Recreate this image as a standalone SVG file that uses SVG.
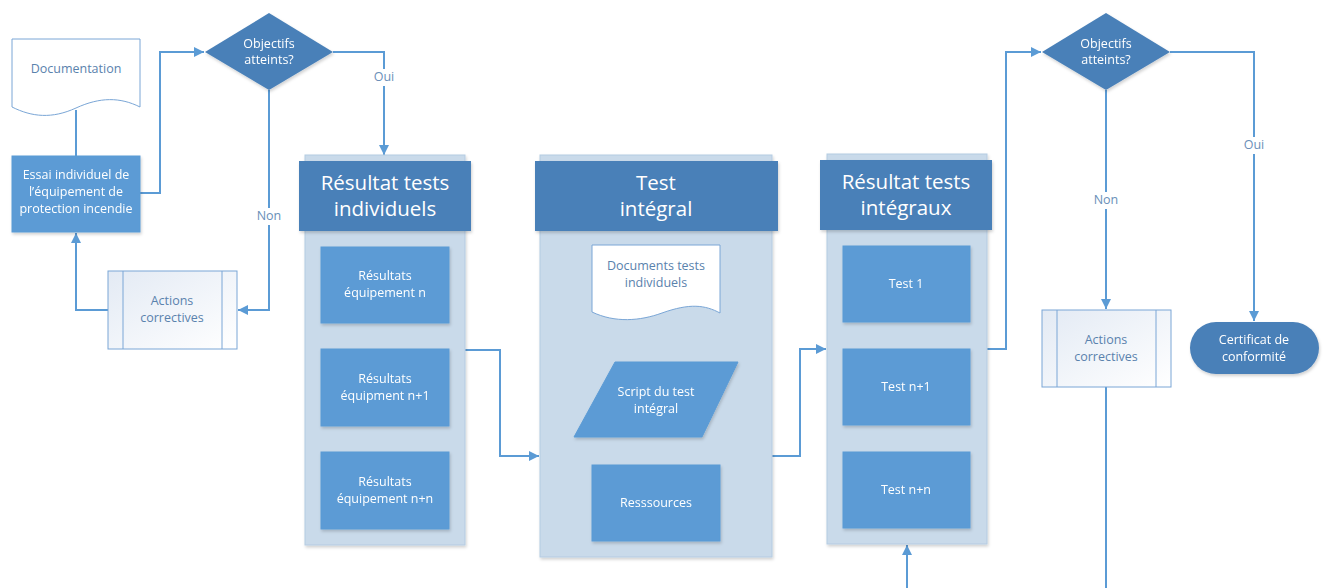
<svg xmlns="http://www.w3.org/2000/svg" width="1326" height="588" viewBox="0 0 1326 588">
<defs>
<style>
.conn{fill:none;stroke:#5b9bd5;stroke-width:2}
.lbl{font-family:"Open Sans","Liberation Sans",sans-serif;font-size:12.5px;fill:#6a8fb8;text-anchor:middle}
.wt{font-family:"Open Sans","Liberation Sans",sans-serif;font-size:12.5px;fill:#ffffff;text-anchor:middle}
.bt{font-family:"Open Sans","Liberation Sans",sans-serif;font-size:12.5px;fill:#5a82ad;text-anchor:middle}
.title{font-family:"Open Sans","Liberation Sans",sans-serif;font-size:20.5px;fill:#ffffff;text-anchor:middle}
.box{fill:#5b9bd5;stroke:#5b9bd5}
.dark{fill:#4a80b8}
.panel{fill:#c9daea;stroke:#b4cbe2;stroke-width:1}
.doc{fill:#ffffff;stroke:#7aa6d6;stroke-width:1}
.pred{fill:url(#pg);stroke:#7aa6d6;stroke-width:1}
</style>
<linearGradient id="pg" x1="0" y1="0" x2="1" y2="1">
<stop offset="0" stop-color="#e3eaf4"/>
<stop offset="1" stop-color="#ffffff"/>
</linearGradient>
<filter id="sh" x="-10%" y="-10%" width="130%" height="130%">
<feDropShadow dx="1" dy="2" stdDeviation="1.5" flood-color="#000" flood-opacity="0.18"/>
</filter>
<marker id="ar" viewBox="0 0 10 10" refX="10" refY="5" markerWidth="10" markerHeight="10" markerUnits="userSpaceOnUse" orient="auto">
<path d="M0,0 L10,5 L0,10 z" fill="#5b9bd5"/>
</marker>
</defs>
<rect width="1326" height="588" fill="#ffffff"/>

<g id="connectors">
<path class="conn" d="M76,110 V156"/>
<path class="conn" d="M140,193 H160 V52 H204" marker-end="url(#ar)"/>
<path class="conn" d="M333,52 H384 V155" marker-end="url(#ar)"/>
<path class="conn" d="M269,90 V310 H238" marker-end="url(#ar)"/>
<path class="conn" d="M108,310 H76 V233" marker-end="url(#ar)"/>
<path class="conn" d="M465,350 H500 V456 H539" marker-end="url(#ar)"/>
<path class="conn" d="M772,456 H800 V349 H826" marker-end="url(#ar)"/>
<path class="conn" d="M987,349 H1006 V52 H1041" marker-end="url(#ar)"/>
<path class="conn" d="M1106,90 V309" marker-end="url(#ar)"/>
<path class="conn" d="M1170,52 H1254 V321" marker-end="url(#ar)"/>
<path class="conn" d="M1106,387 V588"/>
<path class="conn" d="M907,588 V545" marker-end="url(#ar)"/>
<path class="conn" d="M385,323 V349 M385,426 V452"/>
<path class="conn" d="M907,322 V349 M907,425 V452"/>
<rect x="370" y="69" width="28" height="17" fill="#ffffff"/>
<text class="lbl" x="384" y="81">Oui</text>
<rect x="253" y="208" width="32" height="17" fill="#ffffff"/>
<text class="lbl" x="269" y="220">Non</text>
<rect x="1090" y="192" width="32" height="17" fill="#ffffff"/>
<text class="lbl" x="1106" y="204">Non</text>
<rect x="1240" y="137" width="28" height="17" fill="#ffffff"/>
<text class="lbl" x="1254" y="149">Oui</text>
</g>

<g id="documentation">
<path class="doc" d="M12,39 H140 V107 C120,97 100,97 76,108 C52,119 32,117 12,107 Z"/>
<text class="bt" x="76" y="73">Documentation</text>
</g>

<g id="essai" filter="url(#sh)">
<rect class="box" x="12" y="156" width="128" height="76"/>
<text class="wt" x="76" y="179">Essai individuel de</text>
<text class="wt" x="76" y="196">l’équipement de</text>
<text class="wt" x="76" y="213">protection incendie</text>
</g>

<g id="decision1" filter="url(#sh)">
<polygon class="dark" points="205,52 269,13 333,52 269,90"/>
<text class="wt" x="269" y="48">Objectifs</text>
<text class="wt" x="269" y="64">atteints?</text>
</g>

<g id="actions1">
<rect class="pred" x="108" y="271" width="129" height="78"/>
<line x1="123" y1="271" x2="123" y2="349" stroke="#7aa6d6"/>
<line x1="222" y1="271" x2="222" y2="349" stroke="#7aa6d6"/>
<text class="bt" x="172" y="305">Actions</text>
<text class="bt" x="172" y="322">correctives</text>
</g>

<g id="panel1">
<rect class="panel" x="305" y="155" width="160" height="390" filter="url(#sh)"/>
<rect class="dark" x="299" y="161" width="172" height="70" filter="url(#sh)"/>
<text class="title" x="385" y="190">Résultat tests</text>
<text class="title" x="385" y="216">individuels</text>
</g>
<g id="res-n" filter="url(#sh)">
<rect class="box" x="321" y="247" width="128" height="76"/>
<text class="wt" x="385" y="280">Résultats</text>
<text class="wt" x="385" y="297">équipement n</text>
</g>
<g id="res-n1" filter="url(#sh)">
<rect class="box" x="321" y="349" width="128" height="77"/>
<text class="wt" x="385" y="383">Résultats</text>
<text class="wt" x="385" y="400">équipment n+1</text>
</g>
<g id="res-nn" filter="url(#sh)">
<rect class="box" x="321" y="452" width="128" height="77"/>
<text class="wt" x="385" y="486">Résultats</text>
<text class="wt" x="385" y="503">équipement n+n</text>
</g>

<g id="panel2">
<rect class="panel" x="540" y="155" width="232" height="402" filter="url(#sh)"/>
<rect class="dark" x="535" y="161" width="243" height="70" filter="url(#sh)"/>
<text class="title" x="656" y="190">Test</text>
<text class="title" x="656" y="216">intégral</text>
</g>
<g id="docs-tests">
<path class="doc" d="M592,245 H720 V313 C705,305 690,303 662,313 C640,321 615,323 592,312 Z"/>
<text class="bt" x="656" y="270">Documents tests</text>
<text class="bt" x="656" y="287">individuels</text>
</g>
<g id="script" filter="url(#sh)">
<polygon class="box" points="615,362 738,362 702,437 574,437"/>
<text class="wt" x="656" y="396">Script du test</text>
<text class="wt" x="656" y="413">intégral</text>
</g>
<g id="ressources" filter="url(#sh)">
<rect class="box" x="592" y="465" width="128" height="76"/>
<text class="wt" x="656" y="507">Resssources</text>
</g>

<g id="panel3">
<rect class="panel" x="827" y="154" width="160" height="390" filter="url(#sh)"/>
<rect class="dark" x="820" y="160" width="172" height="70" filter="url(#sh)"/>
<text class="title" x="906" y="189">Résultat tests</text>
<text class="title" x="906" y="215">intégraux</text>
</g>
<g id="test1" filter="url(#sh)">
<rect class="box" x="843" y="246" width="127" height="76"/>
<text class="wt" x="906" y="288">Test 1</text>
</g>
<g id="testn1" filter="url(#sh)">
<rect class="box" x="843" y="349" width="127" height="76"/>
<text class="wt" x="906" y="391">Test n+1</text>
</g>
<g id="testnn" filter="url(#sh)">
<rect class="box" x="843" y="452" width="127" height="76"/>
<text class="wt" x="906" y="494">Test n+n</text>
</g>

<g id="decision2" filter="url(#sh)">
<polygon class="dark" points="1042,52 1106,13 1170,52 1106,90"/>
<text class="wt" x="1106" y="48">Objectifs</text>
<text class="wt" x="1106" y="64">atteints?</text>
</g>

<g id="actions2">
<rect class="pred" x="1042" y="310" width="129" height="77"/>
<line x1="1057" y1="310" x2="1057" y2="387" stroke="#7aa6d6"/>
<line x1="1156" y1="310" x2="1156" y2="387" stroke="#7aa6d6"/>
<text class="bt" x="1106" y="344">Actions</text>
<text class="bt" x="1106" y="361">correctives</text>
</g>

<g id="certificat" filter="url(#sh)">
<rect class="dark" x="1190" y="322" width="129" height="52" rx="26" ry="26"/>
<text class="wt" x="1254" y="344">Certificat de</text>
<text class="wt" x="1254" y="361">conformité</text>
</g>
</svg>
